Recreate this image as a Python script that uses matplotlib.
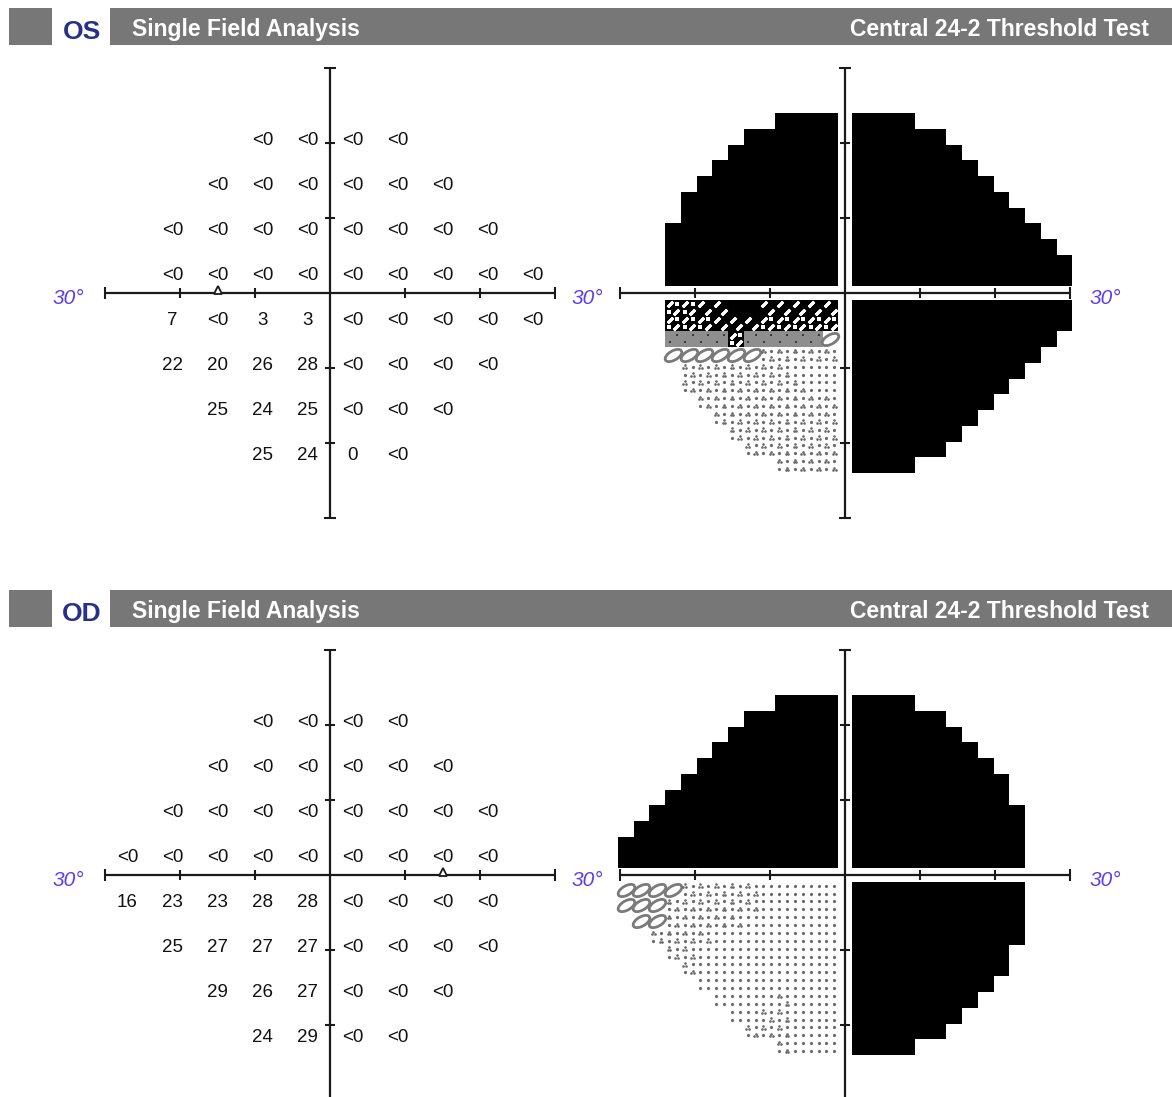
import numpy as np
import matplotlib
matplotlib.use("Agg")
import matplotlib.pyplot as plt
from matplotlib.patches import Rectangle
from matplotlib.collections import PatchCollection

plt.rcParams['font.family'] = ['Liberation Sans', 'DejaVu Sans']

# 24-2 test grid, rows from top to bottom (degrees)
row_y = [21, 15, 9, 3, -3, -9, -15, -21]

os_row_x0 = [-9, -15, -21, -21, -21, -21, -15, -9]
os_values = [
    ["<0", "<0", "<0", "<0"],
    ["<0", "<0", "<0", "<0", "<0", "<0"],
    ["<0", "<0", "<0", "<0", "<0", "<0", "<0", "<0"],
    ["<0", "<0", "<0", "<0", "<0", "<0", "<0", "<0", "<0"],
    ["7", "<0", "3", "3", "<0", "<0", "<0", "<0", "<0"],
    ["22", "20", "26", "28", "<0", "<0", "<0", "<0"],
    ["25", "24", "25", "<0", "<0", "<0"],
    ["25", "24", "0", "<0"],
]
os_blind_spot = (-15, 0.35)

od_row_x0 = [-9, -15, -21, -27, -27, -21, -15, -9]
od_values = [
    ["<0", "<0", "<0", "<0"],
    ["<0", "<0", "<0", "<0", "<0", "<0"],
    ["<0", "<0", "<0", "<0", "<0", "<0", "<0", "<0"],
    ["<0", "<0", "<0", "<0", "<0", "<0", "<0", "<0", "<0"],
    ["16", "23", "23", "28", "28", "<0", "<0", "<0", "<0"],
    ["25", "27", "27", "27", "<0", "<0", "<0", "<0"],
    ["29", "26", "27", "<0", "<0", "<0"],
    ["24", "29", "<0", "<0"],
]
od_blind_spot = (15, 0.35)

# grayscale footprint: cells per row, going out from the horizontal meridian
nasal_cells = [14, 14, 13, 12, 11, 10, 9, 8, 7, 6, 4]
temporal_cells = [11, 11, 11, 11, 10, 10, 9, 8, 7, 6, 4]

W, H = 1172, 1097
PX = 7.5          # pixels per degree
CELL = 2.1        # grayscale cell size (deg)
GAP = 0.9         # white gap along the meridians (deg)
AXC = '#1a1a1a'
BLUE30 = '#5b3cf0'
DOT = '#6a6a6a'

fig = plt.figure(figsize=(W / 100, H / 100), dpi=100)
bg = fig.add_axes([0, 0, 1, 1], zorder=0)
bg.set_xlim(0, W)
bg.set_ylim(H, 0)
bg.axis('off')


def deg_axes(cx, cy):
    half = 32 * PX
    ax = fig.add_axes([(cx - half) / W, (H - cy - half) / H, 2 * half / W, 2 * half / H], zorder=2)
    ax.set_xlim(-32, 32)
    ax.set_ylim(-32, 32)
    ax.axis('off')
    return ax


def draw_cross(ax):
    kw = dict(color=AXC, zorder=6)
    ax.plot([-30, 30], [0, 0], lw=1.6, solid_capstyle='butt', **kw)
    ax.plot([0, 0], [-30, 30], lw=1.6, solid_capstyle='butt', **kw)
    ax.plot([-20, -10, 10, 20], [0, 0, 0, 0], ls='none', marker='|', ms=7, mew=1.5, **kw)
    ax.plot([-30, 30], [0, 0], ls='none', marker='|', ms=8.5, mew=1.5, **kw)
    ax.plot([0, 0, 0, 0], [-20, -10, 10, 20], ls='none', marker='_', ms=7, mew=1.5, **kw)
    ax.plot([0, 0], [-30, 30], ls='none', marker='_', ms=8.5, mew=1.5, **kw)


def to_db(s):
    return -1.0 if s.startswith('<') else float(s)


def cell_value(pts, ax_, ay_):
    gx = min(max(ax_, 3), 27)
    gy = min(max(ay_, 3), 21)
    i = min(int((gx - 3) // 6), 3)
    j = min(int((gy - 3) // 6), 2)
    tx = (gx - 3 - 6 * i) / 6
    ty = (gy - 3 - 6 * j) / 6
    num = den = 0.0
    for di, wx in ((0, 1 - tx), (1, tx)):
        for dj, wy in ((0, 1 - ty), (1, ty)):
            key = (3 + 6 * (i + di), 3 + 6 * (j + dj))
            w = wx * wy
            if key in pts and w > 0:
                num += w * pts[key]
                den += w
    if den == 0:
        key = min(pts, key=lambda k: (k[0] - ax_) ** 2 + (k[1] - ay_) ** 2)
        return pts[key]
    return num / den


def band(v):
    if v < 1:
        return 0
    return min(7, int((v - 1) // 5) + 1)


ring = np.linspace(0, 2 * np.pi, 41)
rot = np.deg2rad(30)
ex, ey = np.cos(ring), 0.5 * np.sin(ring)
ring_marker = np.column_stack([ex * np.cos(rot) - ey * np.sin(rot), ex * np.sin(rot) + ey * np.cos(rot)])


def cluster(cx, cy):
    return [(cx - 0.09, cy - 0.07), (cx + 0.09, cy - 0.07), (cx, cy + 0.09)]


def draw_grayscale(ax, points, nasal_sign):
    cells = {b: [] for b in range(8)}
    for qx in (1, -1):
        lengths = nasal_cells if qx == nasal_sign else temporal_cells
        for qy in (1, -1):
            quad = {(abs(x), abs(y)): v for (x, y), v in points.items()
                    if np.sign(x) == qx and np.sign(y) == qy}
            for j, n in enumerate(lengths):
                y_in = GAP + j * CELL
                for i in range(n):
                    x_in = GAP + i * CELL
                    v = cell_value(quad, x_in + CELL / 2, y_in + CELL / 2)
                    x_ll = x_in if qx > 0 else -(x_in + CELL)
                    y_ll = y_in if qy > 0 else -(y_in + CELL)
                    cells[band(v)].append((x_ll, y_ll))

    faces = {0: 'black', 1: 'black', 2: 'black', 3: '#8e8e8e'}
    for b, face in faces.items():
        if cells[b]:
            pc = PatchCollection([Rectangle(c, CELL, CELL) for c in cells[b]],
                                 facecolor=face, edgecolor='none', linewidth=0,
                                 antialiased=False, zorder=2)
            ax.add_collection(pc)

    def marks(b, offsets, **kw):
        if not cells[b]:
            return
        xs, ys = [], []
        for (x, y) in cells[b]:
            for ox, oy in offsets:
                xs.append(x + CELL * ox)
                ys.append(y + CELL * oy)
        ax.plot(xs, ys, ls='none', zorder=3, **kw)

    grid2 = [(0.25, 0.25), (0.75, 0.25), (0.25, 0.75), (0.75, 0.75)]
    slash = dict(marker=(2, 2, -45), ms=5.5, mew=2.0, color='white')
    marks(1, [(0.3, 0.72), (0.72, 0.25)], **slash)
    marks(2, [(0.3, 0.72), (0.72, 0.25)], **slash)
    marks(2, [(0.25, 0.25), (0.75, 0.75)], marker='s', ms=2.6, mew=0, color='white')
    marks(3, [(0.3, 0.3), (0.75, 0.75)], marker='s', ms=2.0, mew=0, color='#3a3a3a')
    marks(4, [(0.5, 0.5)], marker=ring_marker, ms=12, mew=2.0, mfc='none', mec='#7a7a7a')
    marks(5, [(0.25, 0.25), (0.75, 0.75)], marker='o', ms=2.3, mew=0, color=DOT)
    marks(5, cluster(0.75, 0.25) + cluster(0.25, 0.75), marker='o', ms=1.9, mew=0, color=DOT)
    marks(6, grid2, marker='o', ms=2.3, mew=0, color=DOT)
    marks(7, [(0.5, 0.5)], marker='o', ms=2.3, mew=0, color=DOT)


panels = [
    ("OS", os_row_x0, os_values, os_blind_spot, 1, 0),
    ("OD", od_row_x0, od_values, od_blind_spot, -1, 582),
]

for eye, row_x0, values, blind, nasal_sign, dy in panels:
    # header bar
    bg.add_patch(Rectangle((9, 7.5 + dy), 43, 37.5, facecolor='#777777', edgecolor='none'))
    bg.add_patch(Rectangle((110, 7.5 + dy), W - 110, 37.5, facecolor='#777777', edgecolor='none'))
    bg.text(82, 39 + dy, eye, ha='center', va='baseline', fontsize=19, fontweight='bold',
            color='#27318b')
    bg.text(132, 36 + dy, "Single Field Analysis", ha='left', va='baseline', fontsize=16.5,
            fontweight='bold', color='white')
    bg.text(1149, 36 + dy, "Central 24-2 Threshold Test", ha='right', va='baseline',
            fontsize=16.5, fontweight='bold', color='white')

    # numeric threshold map
    axn = deg_axes(330, 293 + dy)
    draw_cross(axn)
    points = {}
    for y, x0, vals in zip(row_y, row_x0, values):
        for k, s in enumerate(vals):
            x = x0 + 6 * k
            points[(x, y)] = to_db(s)
            axn.text(x, y - 1.25, s, ha='center', va='baseline', fontsize=13.5, color='#111111',
                     zorder=7)
    axn.plot([blind[0]], [blind[1]], ls='none', marker='^', ms=6, mew=1.3, mfc='white',
             mec=AXC, zorder=8)
    axn.text(-34.9, -1.5, "30°", ha='center', va='baseline', fontsize=15, style='italic',
             color=BLUE30)

    # grayscale map
    axg = deg_axes(845, 293 + dy)
    draw_grayscale(axg, points, nasal_sign)
    draw_cross(axg)
    axg.text(-34.3, -1.5, "30°", ha='center', va='baseline', fontsize=15, style='italic',
             color=BLUE30)
    axg.text(34.7, -1.5, "30°", ha='center', va='baseline', fontsize=15, style='italic',
             color=BLUE30)

fig.savefig("out.png", dpi=100)
